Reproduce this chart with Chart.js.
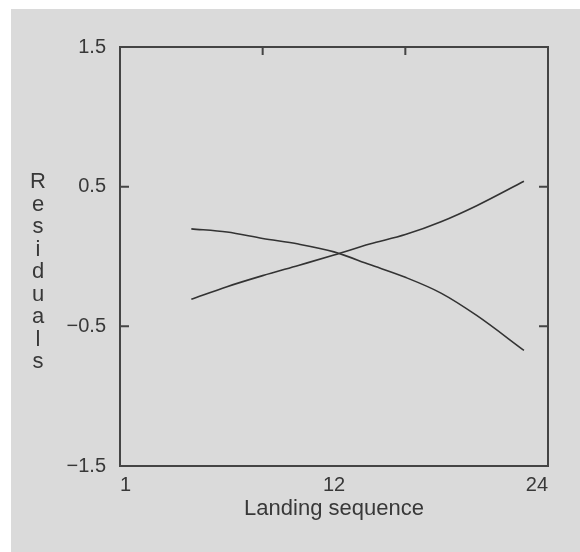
<!DOCTYPE html>
<html>
<head>
<meta charset="utf-8">
<script src="https://cdn.jsdelivr.net/npm/chart.js@4/dist/chart.umd.min.js"></script>
<style>
  html, body { margin: 0; padding: 0; background: #fff; }
  #wrap { position: absolute; left: 11px; top: 9px; width: 569px; height: 543px; background: #dadada; }
</style>
</head>
<body>
<div id="wrap"><canvas id="residChart" width="569" height="543"></canvas></div>
<script>
// Landing sequence positions of the fitted curves
const landing = [4, 6, 8, 10, 12, 14, 16, 18, 20, 22.65];
// Residual curves
const residDown = [0.198, 0.175, 0.129, 0.089, 0.033, -0.058, -0.149, -0.262, -0.422, -0.672];
const residUp = [-0.306, -0.216, -0.137, -0.064, 0.010, 0.089, 0.157, 0.249, 0.364, 0.539];

// Axis ticks
const xTickValues = [0, 12, 24];
const xTickLabels = ['1', '12', '24'];
const xTopMarks = [8, 16];
const yTickValues = [-1.5, -0.5, 0.5, 1.5];
const yTickLabels = ['\u22121.5', '\u22120.5', '0.5', '1.5'];
const ySideMarks = [0.5, -0.5];
const yTitle = 'Residuals';

const ink = '#383838';

function toPoints(ys) {
    return landing.map((x, i) => ({ x: x, y: ys[i] }));
}

// Box outline and inward tick marks
const framePlugin = {
    id: 'frame',
    afterDraw(chart) {
        const { ctx, chartArea: a, scales } = chart;
        ctx.save();
        ctx.strokeStyle = '#444';
        ctx.lineWidth = 2;
        ctx.beginPath();
        ctx.moveTo(a.left, a.top);
        ctx.lineTo(a.right, a.top);
        ctx.lineTo(a.right, a.bottom);
        ctx.stroke();

        ctx.beginPath();
        xTopMarks.forEach(v => {
            const px = scales.x.getPixelForValue(v);
            ctx.moveTo(px, a.top);
            ctx.lineTo(px, a.top + 8);
        });
        ySideMarks.forEach(v => {
            const py = scales.y.getPixelForValue(v);
            ctx.moveTo(a.left, py);
            ctx.lineTo(a.left + 9, py);
            ctx.moveTo(a.right, py);
            ctx.lineTo(a.right - 9, py);
        });
        ctx.stroke();

        // stacked y title
        ctx.fillStyle = ink;
        ctx.font = '22px "Liberation Sans", Arial, sans-serif';
        ctx.textAlign = 'center';
        ctx.textBaseline = 'alphabetic';
        yTitle.split('').forEach((ch, i) => {
            ctx.fillText(ch, 27, 179 + i * 22.5);
        });
        ctx.restore();
    }
};

function initChart() {
    const ctx = document.getElementById('residChart').getContext('2d');
    new Chart(ctx, {
        type: 'scatter',
        data: {
            datasets: [{
                data: toPoints(residDown),
                showLine: true,
                borderColor: '#333',
                borderWidth: 1.6,
                pointRadius: 0,
                cubicInterpolationMode: 'monotone'
            }, {
                data: toPoints(residUp),
                showLine: true,
                borderColor: '#333',
                borderWidth: 1.6,
                pointRadius: 0,
                cubicInterpolationMode: 'monotone'
            }]
        },
        options: {
            responsive: false,
            animation: false,
            layout: { padding: { top: 38, right: 32, left: 0, bottom: 0 } },
            plugins: {
                legend: { display: false },
                tooltip: { enabled: false }
            },
            scales: {
                x: {
                    type: 'linear',
                    min: 0,
                    max: 24,
                    afterBuildTicks: scale => { scale.ticks = xTickValues.map(v => ({ value: v })); },
                    afterFit: scale => { scale.height = 86; },
                    grid: { display: false, drawTicks: false },
                    border: { display: true, color: '#444', width: 2 },
                    ticks: {
                        align: 'inner',
                        padding: 7,
                        maxRotation: 0,
                        color: ink,
                        font: { family: '"Liberation Sans", Arial, sans-serif', size: 20 },
                        callback: (v, i) => xTickLabels[i]
                    },
                    title: {
                        display: true,
                        text: 'Landing sequence',
                        color: ink,
                        padding: { top: 0, bottom: 30 },
                        font: { family: '"Liberation Sans", Arial, sans-serif', size: 22 }
                    }
                },
                y: {
                    min: -1.5,
                    max: 1.5,
                    afterBuildTicks: scale => { scale.ticks = yTickValues.map(v => ({ value: v })); },
                    afterFit: scale => { scale.width = 109; },
                    grid: { display: false, drawTicks: false },
                    border: { display: true, color: '#444', width: 2 },
                    ticks: {
                        padding: 14,
                        color: ink,
                        font: { family: '"Liberation Sans", Arial, sans-serif', size: 20 },
                        callback: (v, i) => yTickLabels[i]
                    }
                }
            }
        },
        plugins: [framePlugin]
    });
}

document.addEventListener('DOMContentLoaded', () => {
    initChart();
});
</script>
</body>
</html>
